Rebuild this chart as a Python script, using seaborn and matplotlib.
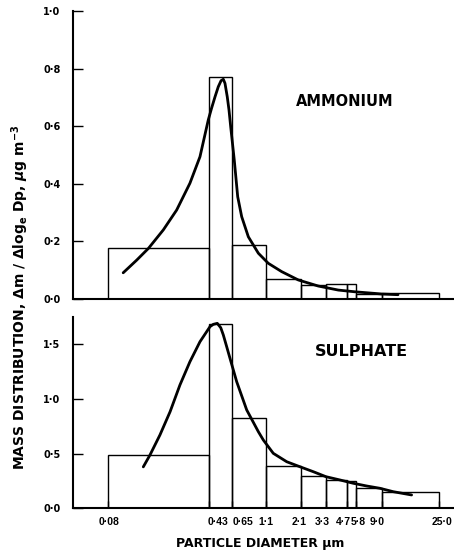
import numpy as np
import pandas as pd
import matplotlib
matplotlib.use("Agg")
import matplotlib.pyplot as plt
import matplotlib.transforms as mtransforms
import seaborn as sns
from matplotlib.ticker import FixedLocator, FixedFormatter, NullLocator

# ---- data ----
edges = [0.08, 0.43, 0.65, 1.1, 2.1, 3.3, 4.7, 5.8, 9.0, 25.0]
edge_labels = ["0·08", "0·43", "0·65", "1·1", "2·1", "3·3", "4·7", "5·8", "9·0", "25·0"]

ammonium_bars = [0.177, 0.770, 0.188, 0.068, 0.049, 0.052, 0.052, 0.018, 0.020]
sulphate_bars = [0.488, 1.690, 0.830, 0.387, 0.293, 0.257, 0.252, 0.190, 0.146]

ammonium_dp = [0.103, 0.129, 0.157, 0.201, 0.251, 0.313, 0.370, 0.425, 0.450, 0.479,
               0.508, 0.534, 0.556, 0.573, 0.597, 0.616, 0.635, 0.673, 0.710, 0.755,
               0.837, 0.977, 1.147, 1.47, 2.00, 2.87, 4.06, 5.66, 9.2, 12.0]
ammonium_curve = [0.091, 0.135, 0.176, 0.240, 0.309, 0.402, 0.494, 0.622, 0.662, 0.702,
                  0.737, 0.758, 0.763, 0.749, 0.702, 0.656, 0.598, 0.483, 0.355, 0.286,
                  0.216, 0.159, 0.124, 0.095, 0.066, 0.045, 0.031, 0.025, 0.017, 0.015]

sulphate_dp = [0.144, 0.161, 0.190, 0.225, 0.265, 0.313, 0.370, 0.438, 0.465, 0.499,
               0.531, 0.556, 0.591, 0.627, 0.699, 0.816, 0.977, 1.055, 1.258, 1.613,
               2.06, 2.62, 3.3, 4.18, 5.44, 6.95, 8.70, 11.0, 15.3]
sulphate_curve = [0.379, 0.488, 0.671, 0.884, 1.128, 1.341, 1.524, 1.662, 1.683, 1.692,
                  1.652, 1.586, 1.478, 1.372, 1.158, 0.900, 0.701, 0.625, 0.503, 0.426,
                  0.380, 0.335, 0.289, 0.259, 0.229, 0.204, 0.183, 0.152, 0.122]

amm_ticks = [0.0, 0.2, 0.4, 0.6, 0.8, 1.0]
amm_tick_labels = ["0·0", "0·2", "0·4", "0·6", "0·8", "1·0"]
sul_ticks = [0.0, 0.5, 1.0, 1.5]
sul_tick_labels = ["0·0", "0·5", "1·0", "1·5"]

# ---- style ----
sns.set_style("ticks")
plt.rcParams["font.family"] = ["DejaVu Sans"]
plt.rcParams["font.weight"] = "bold"
for k in ["text.color", "axes.labelcolor", "xtick.color", "ytick.color", "axes.edgecolor"]:
    plt.rcParams[k] = "black"

# The original's diameter axis is a hand-drawn, nearly logarithmic scale;
# reproduce it as a piecewise-logarithmic axis through the bin edges.
_log_edges = np.log10(edges)
_pos_edges = np.array([108, 209, 232, 266, 301, 326, 347, 356, 382, 439], dtype=float)
_sl = (_pos_edges[1] - _pos_edges[0]) / (_log_edges[1] - _log_edges[0])
_sr = (_pos_edges[-1] - _pos_edges[-2]) / (_log_edges[-1] - _log_edges[-2])


def fwd(x):
    lx = np.log10(np.clip(np.asarray(x, dtype=float), 1e-6, None))
    out = np.interp(lx, _log_edges, _pos_edges)
    out = np.where(lx < _log_edges[0], _pos_edges[0] + (lx - _log_edges[0]) * _sl, out)
    out = np.where(lx > _log_edges[-1], _pos_edges[-1] + (lx - _log_edges[-1]) * _sr, out)
    return out


def inv(p):
    p = np.asarray(p, dtype=float)
    lx = np.interp(p, _pos_edges, _log_edges)
    lx = np.where(p < _pos_edges[0], _log_edges[0] + (p - _pos_edges[0]) / _sl, lx)
    lx = np.where(p > _pos_edges[-1], _log_edges[-1] + (p - _pos_edges[-1]) / _sr, lx)
    return np.power(10.0, lx)


fig = plt.figure(figsize=(4.54, 5.5), dpi=100)
L, R = 73 / 454, 1.0
ax1 = fig.add_axes([L, 1 - 299 / 550, R - L, (299 - 11) / 550])
ax2 = fig.add_axes([L, 1 - 508.3 / 550, R - L, (508.3 - 317) / 550])

xlim = (float(inv(73.0)), float(inv(454.0)))


def draw(ax, bars, dp, curve, ymax, ticks, tick_labels):
    ax.set_xscale("function", functions=(fwd, inv))
    widths = np.diff(edges)
    ax.bar(edges[:-1], bars, width=widths, align="edge", fill=False,
           edgecolor="black", linewidth=1.0, zorder=2)
    df = pd.DataFrame({"dp": dp, "v": curve})
    sns.lineplot(data=df, x="dp", y="v", ax=ax, color="black", linewidth=2.0,
                 sort=False, estimator=None, zorder=3,
                 solid_joinstyle="round", solid_capstyle="round")
    ax.set_xlim(*xlim)
    ax.set_ylim(0, ymax)
    ax.yaxis.set_major_locator(FixedLocator(ticks))
    ax.yaxis.set_major_formatter(FixedFormatter(tick_labels))
    ax.yaxis.set_minor_locator(NullLocator())
    ax.xaxis.set_minor_locator(NullLocator())
    for s in ["top", "right"]:
        ax.spines[s].set_visible(False)
    for s in ["left", "bottom"]:
        ax.spines[s].set_linewidth(1.5)
        ax.spines[s].set_color("black")
    ax.tick_params(axis="y", direction="in", length=7, width=1.0, pad=9,
                   labelsize=7, colors="black")
    ax.set_xlabel("")
    ax.set_ylabel("")
    ax.set_facecolor("white")


draw(ax1, ammonium_bars, ammonium_dp, ammonium_curve, 1.0, amm_ticks, amm_tick_labels)
draw(ax2, sulphate_bars, sulphate_dp, sulphate_curve, 1.75, sul_ticks, sul_tick_labels)

ax1.xaxis.set_major_locator(NullLocator())
ax2.xaxis.set_major_locator(FixedLocator(edges))
ax2.xaxis.set_major_formatter(FixedFormatter(edge_labels))
ax2.tick_params(axis="x", direction="in", length=5, width=1.0, pad=6,
                labelsize=7.5, colors="black")
for lab in ax1.get_yticklabels() + ax2.get_yticklabels():
    lab.set_fontweight("bold")

# hand-placed label offsets as in the original figure (pixels)
x_offsets = [1, 9, 11, 0, -2, -4, -4, 2, -5, 3]
for lab, off in zip(ax2.get_xticklabels(), x_offsets):
    lab.set_fontweight("bold")
    lab.set_fontfamily(["Liberation Sans", "DejaVu Sans"])
    lab.set_transform(lab.get_transform() +
                      mtransforms.ScaledTranslation(off / 100, 0, fig.dpi_scale_trans))

fig.text(345 / 454, 1 - 102 / 550, "AMMONIUM", ha="center", va="center",
         fontsize=10.5, fontweight="bold")
fig.text(361 / 454, 1 - 351 / 550, "SULPHATE", ha="center", va="center",
         fontsize=11.5, fontweight="bold")
fig.text(20 / 454, 1 - 297 / 550,
         r"MASS DISTRIBUTION, $\Delta$m / $\Delta$log$_{\mathbf{e}}$ Dp, $\mu$g m$^{\mathbf{-3}}$",
         rotation=90, ha="center", va="center", fontsize=10, fontweight="bold")
fig.text(260 / 454, 1 - 543 / 550, "PARTICLE DIAMETER μm", ha="center", va="center",
         fontsize=9, fontweight="bold")

fig.savefig("out.png", dpi=100, facecolor="white")
